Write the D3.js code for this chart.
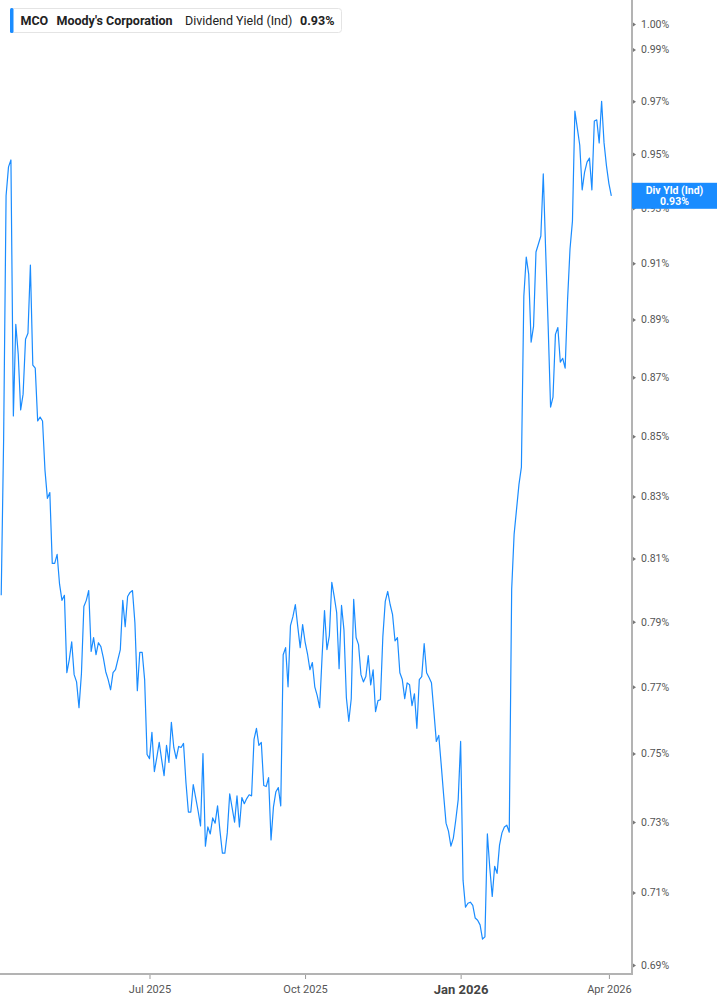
<!DOCTYPE html>
<html>
<head>
<meta charset="utf-8">
<script src="https://cdn.jsdelivr.net/npm/d3@7"></script>
<style>
  body { margin: 0; background: #fff; }
  svg { display: block; font-family: Roboto, "Noto Sans", sans-serif; }
</style>
</head>
<body>
<div id="chart"></div>
<script>
// ---- data ----
var ticker = 'MCO'
var company = "Moody's Corporation"
var seriesName = 'Dividend Yield (Ind)'
var shortName = 'Div Yld (Ind)'
var startDate = '2025-04-02'
var endDate = '2026-04-02'
// market holidays inside the range (no trading)
var holidays = ['2025-04-18', '2025-05-26', '2025-06-19', '2025-07-04', '2025-09-01',
  '2025-11-27', '2025-12-25', '2026-01-01', '2026-01-19', '2026-02-16']
// dividend yield in %, one value per trading day
var yieldValues = [
  0.7983, 0.8493, 0.9345, 0.9452, 0.9478, 0.8568, 0.8883, 0.8779, 0.8588, 0.8642,
  0.8831, 0.8852, 0.9093, 0.8741, 0.8731, 0.8551, 0.8564, 0.8551, 0.8387, 0.8294,
  0.8313, 0.8084, 0.8084, 0.8113, 0.8018, 0.7967, 0.7983, 0.7743, 0.7783, 0.7838,
  0.7737, 0.7715, 0.7637, 0.7740, 0.7948, 0.7967, 0.7998, 0.7808, 0.7851, 0.7798,
  0.7835, 0.7823, 0.7789, 0.7746, 0.7722, 0.7691, 0.7743, 0.7752, 0.7783, 0.7814,
  0.7967, 0.7885, 0.7979, 0.7992, 0.7998, 0.7897, 0.7688, 0.7805, 0.7805, 0.7722,
  0.7497, 0.7485, 0.7563, 0.7447, 0.7488, 0.7533, 0.7482, 0.7435, 0.7524, 0.7474,
  0.7593, 0.7518, 0.7485, 0.7521, 0.7518, 0.7530, 0.7415, 0.7329, 0.7329, 0.7409,
  0.7371, 0.7332, 0.7289, 0.7500, 0.7231, 0.7286, 0.7266, 0.7312, 0.7297, 0.7347,
  0.7274, 0.7211, 0.7211, 0.7269, 0.7382, 0.7341, 0.7300, 0.7376, 0.7286, 0.7371,
  0.7353, 0.7368, 0.7379, 0.7376, 0.7542, 0.7575, 0.7524, 0.7533, 0.7406, 0.7403,
  0.7429, 0.7249, 0.7344, 0.7388, 0.7400, 0.7347, 0.7798, 0.7820, 0.7700, 0.7888,
  0.7916, 0.7954, 0.7885, 0.7820, 0.7891, 0.7838, 0.7801, 0.7752, 0.7774, 0.7700,
  0.7673, 0.7637, 0.7792, 0.7935, 0.7814, 0.7857, 0.8024, 0.7979, 0.7929, 0.7755,
  0.7951, 0.7875, 0.7667, 0.7596, 0.7664, 0.7970, 0.7851, 0.7829, 0.7737, 0.7715,
  0.7731, 0.7795, 0.7706, 0.7752, 0.7625, 0.7658, 0.7661, 0.7854, 0.7964, 0.7995,
  0.7954, 0.7922, 0.7841, 0.7851, 0.7743, 0.7722, 0.7664, 0.7712, 0.7706, 0.7643,
  0.7679, 0.7575, 0.7722, 0.7731, 0.7832, 0.7743, 0.7728, 0.7712, 0.7625, 0.7536,
  0.7554, 0.7468, 0.7379, 0.7297, 0.7274, 0.7231, 0.7254, 0.7306, 0.7365, 0.7536,
  0.7134, 0.7059, 0.7070, 0.7073, 0.7064, 0.7029, 0.7023, 0.7010, 0.6971, 0.6977,
  0.7266, 0.7169, 0.7089, 0.7174, 0.7154, 0.7234, 0.7269, 0.7286, 0.7291, 0.7271,
  0.8002, 0.8177, 0.8258, 0.8340, 0.8397, 0.8982, 0.9122, 0.9061, 0.8821, 0.8876,
  0.9140, 0.9169, 0.9198, 0.9426, 0.9140, 0.8879, 0.8598, 0.8632, 0.8848, 0.8872,
  0.8752, 0.8765, 0.8731, 0.8971, 0.9151, 0.9252, 0.9662, 0.9598, 0.9534, 0.9367,
  0.9433, 0.9470, 0.9485, 0.9367, 0.9625, 0.9629, 0.9542, 0.9700, 0.9542, 0.9456,
  0.9390, 0.9345
]
var yTicks = [0.69, 0.71, 0.73, 0.75, 0.77, 0.79, 0.81, 0.83, 0.85, 0.87, 0.89, 0.91, 0.93, 0.95, 0.97, 0.99, 1.00]
var xTickDates = ['2025-07-01', '2025-10-01', '2026-01-02', '2026-04-01']
var xTickLabels = ['Jul 2025', 'Oct 2025', 'Jan 2026', 'Apr 2026']

// ---- layout ----
var width = 717
var height = 1005
var plot = { left: 0, right: 632, top: 0, bottom: 974 }
var blue = '#1a8cff'

// trading days between two dates (weekdays, no holidays)
function tradingDays (start, end, skip) {
  var out = []
  var d = new Date(start + 'T00:00:00Z')
  var last = new Date(end + 'T00:00:00Z')
  while (d <= last) {
    var wd = d.getUTCDay()
    var key = d.toISOString().slice(0, 10)
    if (wd !== 0 && wd !== 6 && skip.indexOf(key) < 0) out.push(key)
    d.setUTCDate(d.getUTCDate() + 1)
  }
  return out
}

var dates = tradingDays(startDate, endDate, holidays)
var n = Math.min(dates.length, yieldValues.length)
var data = []
for (var i = 0; i < n; i++) data.push({ date: dates[i], value: yieldValues[i] })

var svg = d3.select('#chart').append('svg')
  .attr('width', width)
  .attr('height', height)

// x: trading-day index, y: log scale
var x = d3.scaleLinear().domain([-0.5, n + 7.5]).range([plot.left, plot.right])
var y = d3.scaleLog().domain([0.69, 1.00]).range([965, 24])

svg.append('clipPath').attr('id', 'clip')
  .append('rect')
  .attr('x', plot.left).attr('y', plot.top)
  .attr('width', plot.right - plot.left).attr('height', plot.bottom - plot.top)

// 折线
var line = d3.line()
  .x(function (d, i) { return x(i) })
  .y(function (d) { return y(d.value) })

svg.append('path')
  .datum(data)
  .attr('clip-path', 'url(#clip)')
  .attr('fill', 'none')
  .attr('stroke', blue)
  .attr('stroke-width', 1.2)
  .attr('stroke-linejoin', 'round')
  .attr('d', line)

// x axis
var xTickIdx = xTickDates.map(function (d) { return dates.indexOf(d) })
var xAxis = svg.append('g')
  .attr('transform', 'translate(0,' + plot.bottom + ')')
  .call(d3.axisBottom(x)
    .tickValues(xTickIdx)
    .tickSize(5)
    .tickPadding(6)
    .tickFormat(function (d, i) { return xTickLabels[i] }))
xAxis.select('.domain').remove()
xAxis.selectAll('.tick line').attr('stroke', '#9a9a9a')
xAxis.selectAll('.tick text')
  .attr('fill', '#555')
  .attr('font-size', 11)
  .attr('font-family', 'Roboto, sans-serif')
  .filter(function (d, i) { return xTickLabels[i] === 'Jan 2026' })
  .attr('font-weight', 'bold')
  .attr('font-size', 13)
  .attr('fill', '#444')
svg.append('line')
  .attr('x1', plot.left).attr('x2', plot.right + 1)
  .attr('y1', plot.bottom).attr('y2', plot.bottom)
  .attr('stroke', '#b3b3b3').attr('stroke-width', 2)

// y axis on the right
var yAxis = svg.append('g')
  .attr('transform', 'translate(' + plot.right + ',0)')
  .call(d3.axisRight(y)
    .tickValues(yTicks)
    .tickSize(0)
    .tickPadding(9)
    .tickFormat(function (d) { return d.toFixed(2) + '%' }))
yAxis.select('.domain').remove()
yAxis.selectAll('.tick text')
  .attr('fill', '#555')
  .attr('font-size', 10.5)
  .attr('font-family', 'Roboto, sans-serif')
yAxis.selectAll('.tick').append('path')
  .attr('d', 'M1,-2L4,0L1,2Z')
  .attr('fill', '#777')
svg.append('line')
  .attr('x1', plot.right).attr('x2', plot.right)
  .attr('y1', plot.top).attr('y2', plot.bottom + 1)
  .attr('stroke', '#b3b3b3').attr('stroke-width', 2)

// last value flag
var lastVal = data[data.length - 1].value
var flag = svg.append('g').attr('transform', 'translate(' + plot.right + ',' + (y(lastVal) - 13) + ')')
flag.append('rect')
  .attr('width', width - plot.right).attr('height', 26)
  .attr('fill', blue)
flag.append('text')
  .attr('x', (width - plot.right) / 2).attr('y', 11)
  .attr('text-anchor', 'middle')
  .attr('fill', '#fff').attr('font-size', 10.5).attr('font-weight', 'bold')
  .text(shortName)
flag.append('text')
  .attr('x', (width - plot.right) / 2).attr('y', 22)
  .attr('text-anchor', 'middle')
  .attr('fill', '#fff').attr('font-size', 10.5).attr('font-weight', 'bold')
  .text(lastVal.toFixed(2) + '%')

// legend box
var legend = svg.append('g')
legend.append('rect')
  .attr('x', 10.5).attr('y', 8.5).attr('width', 331).attr('height', 24).attr('rx', 3)
  .attr('fill', '#fff').attr('stroke', '#e4e4e4')
legend.append('rect')
  .attr('x', 10).attr('y', 8).attr('width', 3.5).attr('height', 25).attr('rx', 1.5)
  .attr('fill', blue)
var legendItems = [
  { text: ticker, x: 20.5, bold: true },
  { text: company, x: 56.5, bold: true },
  { text: seriesName, x: 185, bold: false },
  { text: lastVal.toFixed(2) + '%', x: 300, bold: true }
]
legend.selectAll('text.item')
  .data(legendItems)
  .enter()
  .append('text')
  .attr('class', 'item')
  .attr('x', function (d) { return d.x })
  .attr('y', 25)
  .attr('font-size', 12.5)
  .attr('font-weight', function (d) { return d.bold ? 'bold' : 'normal' })
  .attr('fill', '#222')
  .text(function (d) { return d.text })
</script>
</body>
</html>
